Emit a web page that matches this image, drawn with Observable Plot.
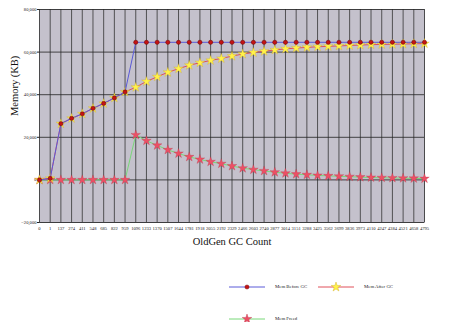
<!DOCTYPE html>
<html><head><meta charset="utf-8">
<script src="https://cdn.jsdelivr.net/npm/d3@7"></script>
<script src="https://cdn.jsdelivr.net/npm/@observablehq/plot@0.6"></script>
<style>
body{margin:0;background:#fff;}
#wrap{position:relative;width:450px;height:322px;font-family:"Liberation Serif",serif;overflow:hidden;}
#chart svg{font-family:"Liberation Serif",serif !important;}
.leg{position:absolute;height:10px;}
.leg svg{position:absolute;left:0;top:0;}
.leg span{position:absolute;top:0;line-height:10px;font-size:4.8px;color:#222;white-space:nowrap;}
</style></head><body><div id="wrap"><div id="chart"></div></div>
<script>
const xLabels = ["0","1","137","274","411","548","685","822","959","1096","1233","1370","1507","1644","1781","1918","2055","2192","2329","2466","2603","2740","2877","3014","3151","3288","3425","3562","3699","3836","3973","4110","4247","4384","4521","4658","4795"];
const yTicks = [-20000, 0, 20000, 40000, 60000, 80000];
const memBefore = [0, 700, 26400, 28900, 31000, 33600, 35900, 38500, 41300,
  64600, 64600, 64600, 64600, 64600, 64600, 64600, 64600, 64600, 64600,
  64600, 64600, 64600, 64600, 64600, 64600, 64600, 64600, 64600, 64600,
  64600, 64600, 64600, 64600, 64600, 64600, 64600, 64600];
const memAfter = [0, 700, 26400, 28900, 31000, 33600, 35900, 38500, 41300,
  43500, 46200, 48400, 50500, 52200, 53800, 55000, 56100, 57000, 58100,
  59100, 59800, 60400, 61000, 61500, 61900, 62200, 62500, 62700, 62900,
  63100, 63300, 63500, 63600, 63700, 63800, 63900, 64000];
const memFreed = [0, 0, 0, 0, 0, 0, 0, 0, 0,
  21100, 18400, 16200, 14100, 12400, 10800, 9600, 8500, 7600, 6500,
  5500, 4800, 4200, 3600, 3100, 2700, 2400, 2100, 1900, 1700,
  1500, 1300, 1100, 1000, 900, 800, 700, 600];
const seriesNames = ["Mem Before GC", "Mem After GC", "Mem Freed"];

// categorical positions: index of each category label
const rows = xLabels.map((c, i) => ({i, c, before: memBefore[i], after: memAfter[i], freed: memFreed[i]}));
const idx = rows.map(r => r.i);

const sty = {
  before: {line: "#5a5ad8", sym: "circle", r: 2.1, fill: "#c41414", stroke: "#6a0000"},
  after: {line: "#e0505a", sym: "star", r: 3.0, fill: "#fff24a", stroke: "#d0a818"},
  freed: {line: "#78d878", sym: "star", r: 3.0, fill: "#ec5066", stroke: "#b83848"}
};
const serif = "'Liberation Serif', 'Times New Roman', serif";

const plot = Plot.plot({
  width: 450, height: 260,
  marginTop: 9, marginBottom: 38, marginLeft: 39, marginRight: 26,
  style: {fontFamily: serif, background: "#fff", color: "#222"},
  x: {type: "linear", domain: [0, xLabels.length - 1]},
  y: {domain: [-20000, 80000]},
  marks: [
    Plot.frame({fill: "#c4c1cc", stroke: "#a9a6b2"}),
    Plot.ruleX(idx, {stroke: "#333", strokeWidth: 0.8}),
    Plot.ruleY(yTicks, {stroke: "#222", strokeWidth: 0.8}),
    Plot.axisY(yTicks, {tickFormat: d3.format(","), fontSize: 4.6, tickSize: 2, tickPadding: 1, label: null, fontFamily: serif}),
    Plot.axisX(idx, {tickFormat: i => xLabels[i], fontSize: 4.6, tickSize: 0, tickPadding: 4, label: null, fontFamily: serif}),
    Plot.text(["OldGen GC Count"], {text: d => d, frameAnchor: "bottom", lineAnchor: "middle", dy: 19, fontSize: 10.5, fill: "#111", fontFamily: serif}),
    Plot.text(["Memory (KB)"], {text: d => d, frameAnchor: "left", lineAnchor: "middle", rotate: -90, dx: -25, fontSize: 10.5, fill: "#111", fontFamily: serif}),
    Plot.line(rows, {x: "i", y: "freed", stroke: sty.freed.line, strokeWidth: 1}),
    Plot.dot(rows, {x: "i", y: "freed", symbol: "star", r: sty.freed.r, fill: sty.freed.fill, stroke: sty.freed.stroke, strokeWidth: 0.3}),
    Plot.line(rows, {x: "i", y: "after", stroke: sty.after.line, strokeWidth: 1}),
    Plot.dot(rows, {x: "i", y: "after", symbol: "star", r: sty.after.r, fill: sty.after.fill, stroke: sty.after.stroke, strokeWidth: 0.3}),
    Plot.line(rows, {x: "i", y: "before", stroke: sty.before.line, strokeWidth: 1}),
    Plot.dot(rows, {x: "i", y: "before", symbol: "circle", r: sty.before.r, fill: sty.before.fill, stroke: sty.before.stroke, strokeWidth: 0.5})
  ]
});
document.getElementById("chart").appendChild(plot);

// legend below the chart
const wrap = document.getElementById("wrap");
const legItems = [
  {name: seriesNames[0], s: sty.before, left: 229, top: 282},
  {name: seriesNames[1], s: sty.after, left: 318, top: 282},
  {name: seriesNames[2], s: sty.freed, left: 229, top: 314}
];
for (const it of legItems) {
  const div = document.createElement("div");
  div.className = "leg";
  div.style.left = it.left + "px";
  div.style.top = it.top + "px";
  const svg = d3.create("svg").attr("width", 36).attr("height", 10);
  svg.append("line").attr("x1", 0).attr("x2", 36).attr("y1", 5).attr("y2", 5)
    .attr("stroke", it.s.line).attr("stroke-width", 1);
  const type = it.s.sym === "star" ? d3.symbolStar : d3.symbolCircle;
  svg.append("path").attr("transform", "translate(18,5)")
    .attr("d", d3.symbol(type, Math.PI * it.s.r * it.s.r)())
    .attr("fill", it.s.fill).attr("stroke", it.s.stroke).attr("stroke-width", 0.4);
  div.appendChild(svg.node());
  const span = document.createElement("span");
  span.style.left = "46px";
  span.textContent = it.name;
  div.appendChild(span);
  wrap.appendChild(div);
}
</script>
</body></html>
